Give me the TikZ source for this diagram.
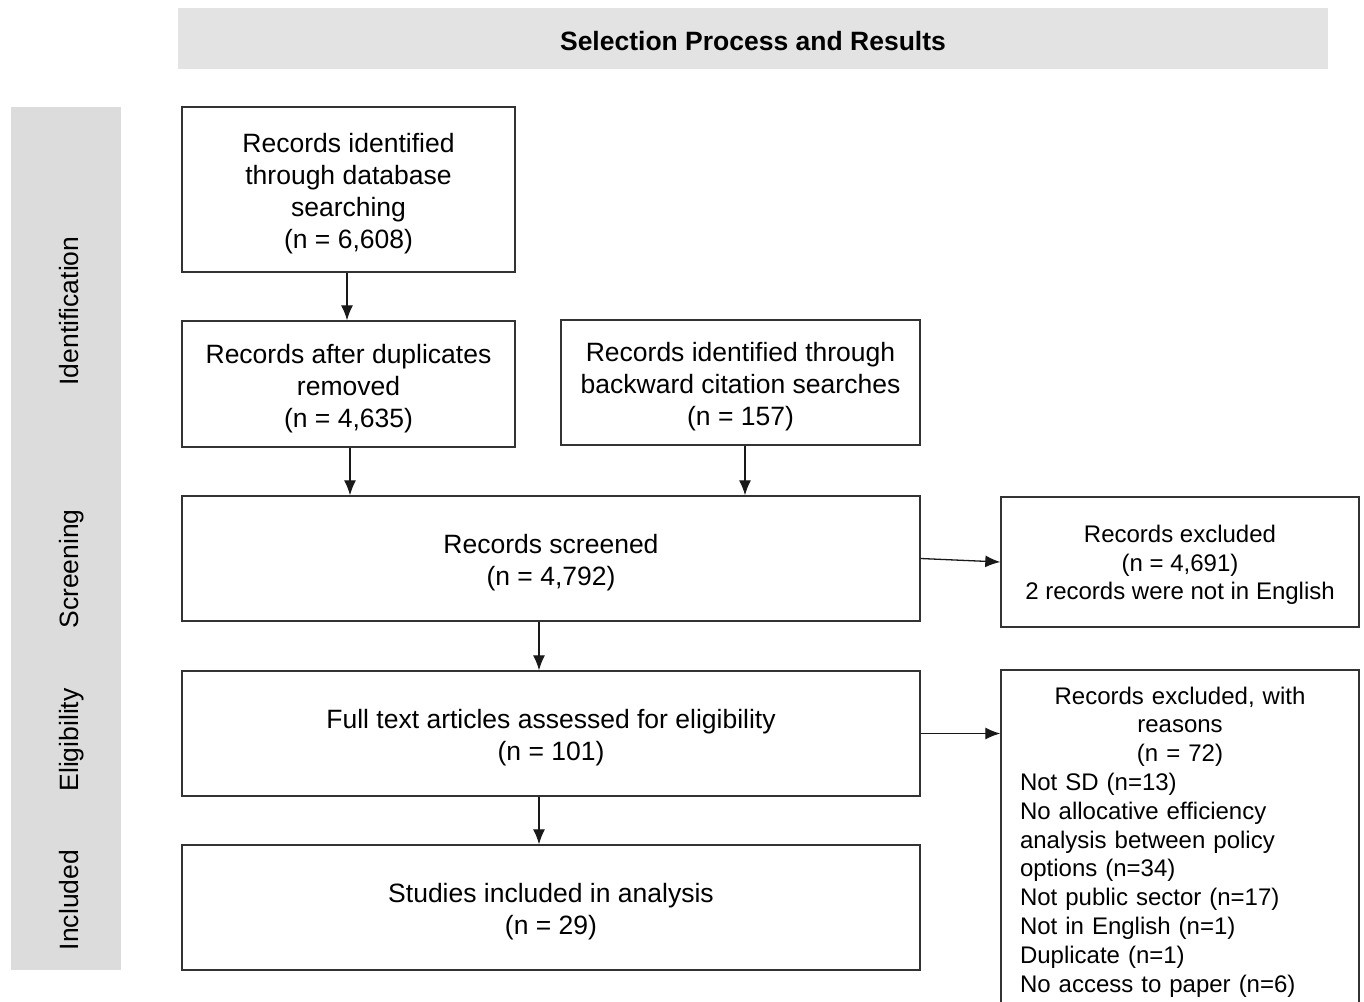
\documentclass[tikz,border=0pt]{standalone}
\usepackage{fontspec}
\setmainfont{Liberation Sans}
\usetikzlibrary{arrows.meta}
\definecolor{boxline}{HTML}{333333}
\definecolor{bandgray}{HTML}{DCDCDC}
\definecolor{headgray}{HTML}{E3E3E3}
\newcommand{\topfix}{\rule{0pt}{28.3pt}}
\newcommand{\topfixsmall}{\rule{0pt}{23.5pt}}
\begin{document}
\begin{tikzpicture}[x=1pt,y=-1pt,
  flowbox/.style={draw=boxline, line width=1.4pt, rectangle, align=center, inner sep=0pt,
    font=\fontsize{26.5}{32}\selectfont},
  exbox/.style={draw=boxline, line width=1.4pt, rectangle, align=center, inner sep=0pt,
    font=\fontsize{24}{28.5}\selectfont},
  sidelabel/.style={rotate=90, anchor=base, inner sep=0pt, font=\fontsize{26.5}{32}\selectfont},
  arr/.style={draw=black!90, line width=1.3pt, -{Latex[length=15pt,width=12pt]}}]
\useasboundingbox (0,0) rectangle (1364,1001);
% header
\node[fill=headgray, minimum width=1150pt, minimum height=61pt, inner sep=0pt,
  font=\fontsize{26.5}{32}\selectfont\bfseries] (head) at (753,38.5) {\rule{0pt}{23.3pt}Selection Process and Results};
% side band
\node[fill=bandgray, minimum width=110pt, minimum height=863pt, inner sep=0pt] (band) at (66,538.5) {};
\node[sidelabel] (lid) at (78,311) {Identification};
\node[sidelabel] (lsc) at (78,569) {Screening};
\node[sidelabel] (lel) at (78,740) {Eligibility};
\node[sidelabel] (lin) at (78,900) {Included};
% boxes
\node[flowbox, minimum width=333pt, minimum height=165pt] (db) at (348.5,189.5)
  {\topfix Records identified\\through database\\searching\\(n = 6,608)};
\node[flowbox, minimum width=333pt, minimum height=126pt] (dup) at (348.5,384)
  {\topfix Records after duplicates\\removed\\(n = 4,635)};
\node[flowbox, minimum width=359pt, minimum height=125pt] (back) at (740.5,382.5)
  {\topfix Records identified through\\backward citation searches\\(n = 157)};
\node[flowbox, minimum width=738pt, minimum height=125pt] (scr) at (551,558.5)
  {\topfix Records screened\\(n = 4,792)};
\node[exbox, minimum width=358pt, minimum height=130pt] (ex1) at (1180,562)
  {\topfixsmall Records excluded\\(n = 4,691)\\2 records were not in English};
\node[flowbox, minimum width=738pt, minimum height=125pt] (full) at (551,733.5)
  {\topfix Full text articles assessed for eligibility\\(n = 101)};
\node[flowbox, minimum width=738pt, minimum height=125pt] (inc) at (551,907.5)
  {\topfix Studies included in analysis\\(n = 29)};
\begin{scope}
\clip (0,0) rectangle (1364,1001);
\node[draw=boxline, line width=1.4pt, rectangle, minimum width=358pt, minimum height=345pt, inner sep=0pt] (ex2) at (1180,842.5) {};
\end{scope}
\node[anchor=north, inner sep=0pt, text width=320pt, align=left,
  font=\fontsize{24}{28.8}\selectfont] (ex2txt) at (1180,686.5)
  {\makebox[\linewidth]{Records excluded, with}\\
   \makebox[\linewidth]{reasons}\\
   \makebox[\linewidth]{(n = 72)}\\
   Not SD (n=13)\\
   No allocative efficiency\\
   analysis between policy\\
   options (n=34)\\
   Not public sector (n=17)\\
   Not in English (n=1)\\
   Duplicate (n=1)\\
   No access to paper (n=6)};
% arrows
\draw[arr] ([xshift=-1.5pt]db.south) -- ([xshift=-1.5pt]dup.north);
\draw[arr] ([xshift=1.5pt]dup.south) -- ([xshift=1.5pt]dup.south |- scr.north);
\draw[arr] ([xshift=4.5pt]back.south) -- ([xshift=4.5pt]back.south |- scr.north);
\draw[arr] ([xshift=-12pt]scr.south) -- ([xshift=-12pt]full.north);
\draw[arr] ([xshift=-12pt]full.south) -- ([xshift=-12pt]inc.north);
\draw[arr] (scr.east) -- (ex1.west);
\draw[arr] (full.east) -- (full.east -| ex2.west);
\end{tikzpicture}
\end{document}
